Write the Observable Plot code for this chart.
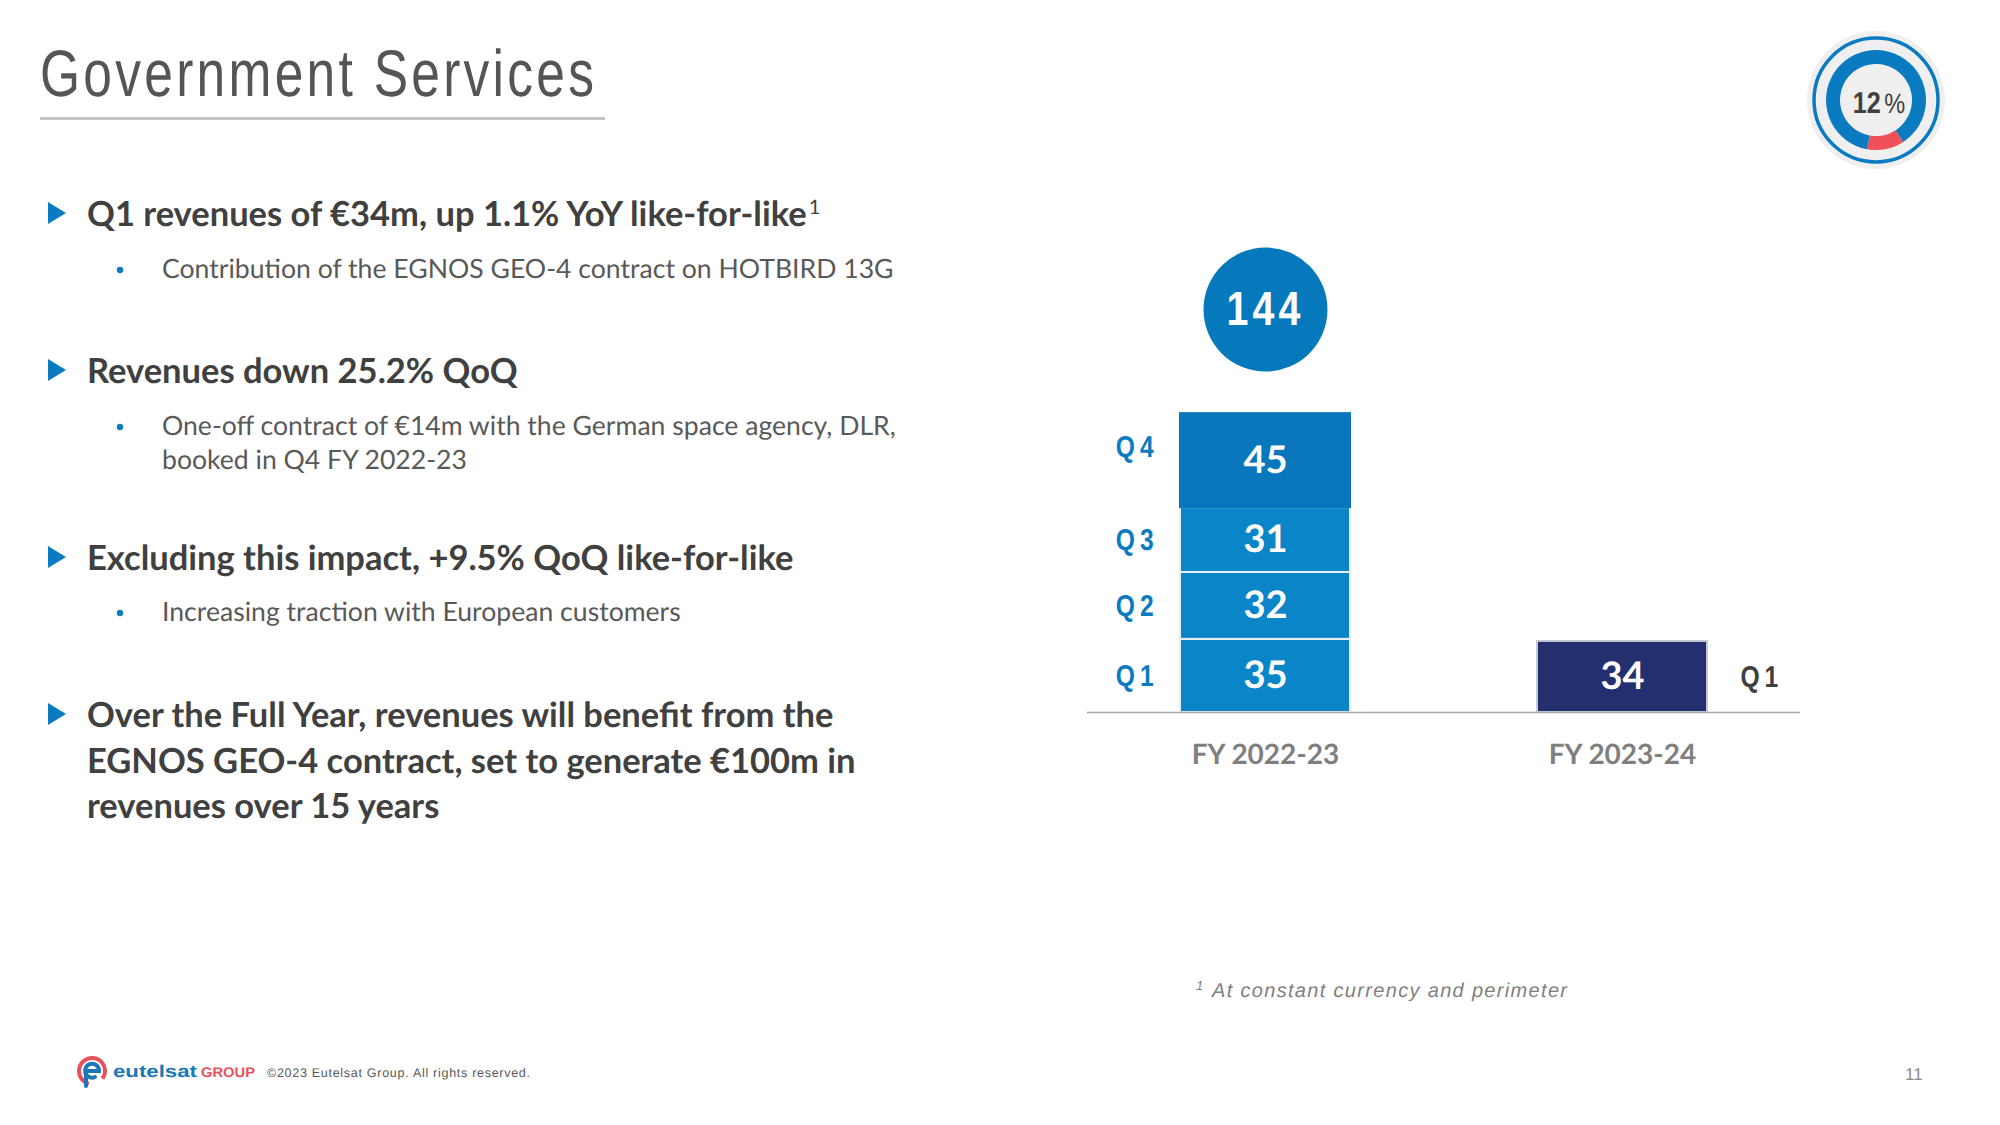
<!DOCTYPE html>
<html><head><meta charset="utf-8">
<script src="https://cdn.jsdelivr.net/npm/d3@7"></script>
<script src="https://cdn.jsdelivr.net/npm/@observablehq/plot@0.6"></script>
<style>
html,body{margin:0;padding:0;background:#fff;}
#page{position:relative;width:2000px;height:1125px;overflow:hidden;background:#fff;}
#bg{position:absolute;left:0;top:0;}
#chart{position:absolute;left:1040px;top:220px;}
#donut{position:absolute;left:1796px;top:20px;}
text{text-rendering:geometricPrecision;}
</style></head><body>
<div id="page">
  <svg id="bg" width="2000" height="1125"></svg>
  <div id="chart"></div>
  <svg id="donut" width="160" height="160"></svg>
</div>
<script>
// ---------- DATA ----------
const fiscalYears = ["FY 2022-23", "FY 2023-24"];
const quartersFY2223 = ["Q1", "Q2", "Q3", "Q4"];
const revenueFY2223 = [35, 32, 31, 45];
const quartersFY2324 = ["Q1"];
const revenueFY2324 = [34];
const totalFY2223 = [144];
const revenueShare = [12, 88];          // % of group revenues
const shareLabel = "12";

const titleText = "Government Services";
const bulletHeadings = [
  ["Q1 revenues of €34m, up 1.1% YoY like-for-like"],
  ["Revenues down 25.2% QoQ"],
  ["Excluding this impact, +9.5% QoQ like-for-like"],
  ["Over the Full Year, revenues will benefit from the", "EGNOS GEO-4 contract, set to generate €100m in", "revenues over 15 years"]
];
const bulletDetails = [
  ["Contribution of the EGNOS GEO-4 contract on HOTBIRD 13G"],
  ["One-off contract of €14m with the German space agency, DLR,", "booked in Q4 FY 2022-23"],
  ["Increasing traction with European customers"],
  []
];
const footnoteText = "At constant currency and perimeter";
const copyrightText = "©2023 Eutelsat Group. All rights reserved.";
const pageNumber = "11";

// ---------- STATIC SLIDE TEXT ----------
const bg = d3.select("#bg");
const gray = "#404040", gray2 = "#595959", blue = "#0a7bc0";
const sans = "'Liberation Sans',Arial,sans-serif";

const TS = 0.78;
bg.append("text").attr("transform", `translate(40,96) scale(${TS},1)`)
  .attr("font-family", sans).attr("font-size", 66).attr("fill", "#555555")
  .attr("textLength", 554 / TS).attr("lengthAdjust", "spacing")
  .text(titleText);
bg.append("rect").attr("x", 40).attr("y", 117).attr("width", 565).attr("height", 3).attr("fill", "#c3c3c3");

const headY = [226, 383, 570, 727];
const detY = [278, 435, 621];
bulletHeadings.forEach((lines, i) => {
  const y0 = headY[i];
  bg.append("path").attr("d", `M48,${y0-24} L66,${y0-13} L48,${y0-2} Z`).attr("fill", blue);
  lines.forEach((ln, j) => {
    const t = bg.append("text").attr("x", 87).attr("y", y0 + j * 45.5)
      .attr("font-family", "Lato, 'Open Sans', sans-serif").attr("font-weight", 700)
      .attr("font-size", 34.5).attr("fill", gray).text(ln);
    if (i === 0 && j === 0) {
      t.append("tspan").attr("dy", -12).attr("dx", 2).attr("font-size", 20).attr("font-weight", 400).text("1");
    }
  });
  (bulletDetails[i] || []).forEach((ln, j) => {
    if (j === 0) bg.append("circle").attr("cx", 120).attr("cy", detY[i] - 8).attr("r", 3.2).attr("fill", blue);
    bg.append("text").attr("x", 162).attr("y", detY[i] + j * 34)
      .attr("font-family", "Lato, 'Open Sans', sans-serif").attr("font-weight", 400)
      .attr("font-size", 26.6).attr("fill", gray2).text(ln);
  });
});

// footnote
const fn = bg.append("text").attr("x", 1196).attr("y", 997)
  .attr("font-family", sans).attr("font-style", "italic").attr("fill", "#7f7f7f");
fn.append("tspan").attr("font-size", 13).attr("dy", -7).text("1");
fn.append("tspan").attr("x", 1212).attr("dy", 7).attr("font-size", 20)
  .attr("textLength", 355).attr("lengthAdjust", "spacing").text(footnoteText);

// footer logo
const lg = bg.append("g");
lg.append("path").attr("d", d3.arc()({innerRadius: 11, outerRadius: 15, startAngle: -2.9, endAngle: 2.2}))
  .attr("transform", "translate(92,1071)").attr("fill", "#e8505b");
lg.append("path").attr("d", "M86,1071 L99,1071 A7,7 0 1 0 95,1077 M86,1071 L86,1086")
  .attr("fill", "none").attr("stroke", "#1a78b8").attr("stroke-width", 4).attr("stroke-linecap", "round");
lg.append("text").attr("x", 113).attr("y", 1077).attr("font-family", sans)
  .attr("font-weight", 700).attr("font-size", 17).attr("fill", "#1a78b8")
  .attr("textLength", 84).attr("lengthAdjust", "spacingAndGlyphs").text("eutelsat");
lg.append("text").attr("x", 201).attr("y", 1077).attr("font-family", sans)
  .attr("font-weight", 700).attr("font-size", 14).attr("fill", "#e8505b")
  .attr("textLength", 54).attr("lengthAdjust", "spacingAndGlyphs").text("GROUP");
bg.append("text").attr("x", 267).attr("y", 1077).attr("font-family", sans)
  .attr("font-size", 12.5).attr("fill", gray2).attr("textLength", 263).attr("lengthAdjust", "spacing")
  .text(copyrightText);
bg.append("text").attr("x", 1905).attr("y", 1080).attr("font-family", sans)
  .attr("font-size", 17).attr("fill", "#8a8a8a").text(pageNumber);

// ---------- DONUT (share of revenues) ----------
const dn = d3.select("#donut");
const dg = dn.append("g").attr("transform", "translate(80,80)");
dg.append("circle").attr("r", 69).attr("fill", "#efefef");
dg.append("circle").attr("r", 62).attr("fill", "none").attr("stroke", "#0a7bc0").attr("stroke-width", 3.5);
const pie = d3.pie().sort(null).startAngle(147 * Math.PI / 180).endAngle((147 + 360) * Math.PI / 180);
const arc = d3.arc().innerRadius(36).outerRadius(50);
dg.selectAll("path.seg").data(pie(revenueShare)).join("path").attr("class", "seg")
  .attr("d", arc).attr("fill", (d, i) => i === 0 ? "#f0505a" : "#0a7bc0");
const dt = dg.append("text").attr("transform", "translate(3,13) scale(0.84,1)").attr("text-anchor", "middle")
  .attr("font-family", sans).attr("fill", gray);
dt.append("tspan").attr("font-weight", 700).attr("font-size", 30).text(shareLabel);
dt.append("tspan").attr("font-size", 28).attr("dx", 4).text("%");

// ---------- CHART ----------
const rows = [
  ...quartersFY2223.map((q, i) => ({fy: fiscalYears[0], q, value: revenueFY2223[i]})),
  ...quartersFY2324.map((q, i) => ({fy: fiscalYears[1], q, value: revenueFY2324[i]}))
];
const totals = totalFY2223.map(t => ({fy: fiscalYears[0], total: t}));
const fillOf = d => d.fy === fiscalYears[1] ? "#232f6f" : d.q === "Q4" ? "#0a77bd" : "#0a86c8";
const strokeOf = d => d.fy === fiscalYears[1] ? "#c5cad3" : d.q === "Q4" ? "#0a77bd" : "#e9eef2";

const chart = Plot.plot({
  width: 820, height: 580,
  marginLeft: 47, marginRight: 60, marginTop: 0, marginBottom: 0,
  x: {domain: fiscalYears, paddingInner: 0.524, paddingOuter: 0.26, axis: null},
  y: {domain: [0, 180], range: [492, 492 - 180 * 2.09], axis: null},
  color: {type: "identity"},
  style: {background: "transparent", overflow: "visible"},
  marks: [
    Plot.barY(rows, Plot.stackY({x: "fy", y: "value", fill: fillOf, stroke: strokeOf, strokeWidth: 2})),
    Plot.ruleY([0], {stroke: "#a6a6a6", strokeWidth: 1.3}),
    Plot.text(rows, Plot.stackY({x: "fy", y: "value", text: d => String(d.value), fill: "white",
      fontSize: 38, fontWeight: 700, fontFamily: "Lato, sans-serif"})),
    Plot.text(rows, Plot.stackY({x: "fy", y: "value",
      text: d => d.fy === fiscalYears[0] && d.q !== "Q4" ? d.q : "",
      dx: -107, textAnchor: "end", fill: "#0a7bc0", fontSize: 30, fontWeight: 700, fontFamily: sans})),
    Plot.text(rows, Plot.stackY({x: "fy", y: "value",
      text: d => d.fy === fiscalYears[0] && d.q === "Q4" ? d.q : "",
      dx: -107, dy: -13, textAnchor: "end", fill: "#0a7bc0", fontSize: 30, fontWeight: 700, fontFamily: sans})),
    Plot.text(rows, Plot.stackY({x: "fy", y: "value",
      text: d => d.fy === fiscalYears[1] ? d.q : "",
      dx: 118, textAnchor: "start", fill: gray, fontSize: 30, fontWeight: 700, fontFamily: sans})),
    Plot.text(fiscalYears, {x: d => d, y: d => 0, dy: 43, text: d => d, fill: "#7f7f7f",
      fontSize: 28, fontWeight: 700, fontFamily: "Lato, sans-serif"}),
    Plot.dot(totals, {x: "fy", y: "total", r: 62, fill: "#0579bb", stroke: null, dy: -102}),
    Plot.text(totals, {x: "fy", y: "total", text: d => String(d.total), dy: -102, fill: "white",
      fontSize: 48, fontWeight: 700, fontFamily: sans})
  ]
});
document.getElementById("chart").appendChild(chart);
// narrow, letter-spaced labels (Arial Narrow look)
const textGroups = chart.querySelectorAll('g[aria-label="text"]');
function narrowGroup(g, spacing) {
  if (!g) return;
  g.style.letterSpacing = spacing + "px";
  g.querySelectorAll("text").forEach(t => {
    const tr = t.getAttribute("transform") || "";
    t.setAttribute("transform", tr + " scale(0.82,1)");
  });
}
[1, 2, 3].forEach(i => narrowGroup(textGroups[i], 6));
narrowGroup(textGroups[5], 5);
</script>
</body></html>
